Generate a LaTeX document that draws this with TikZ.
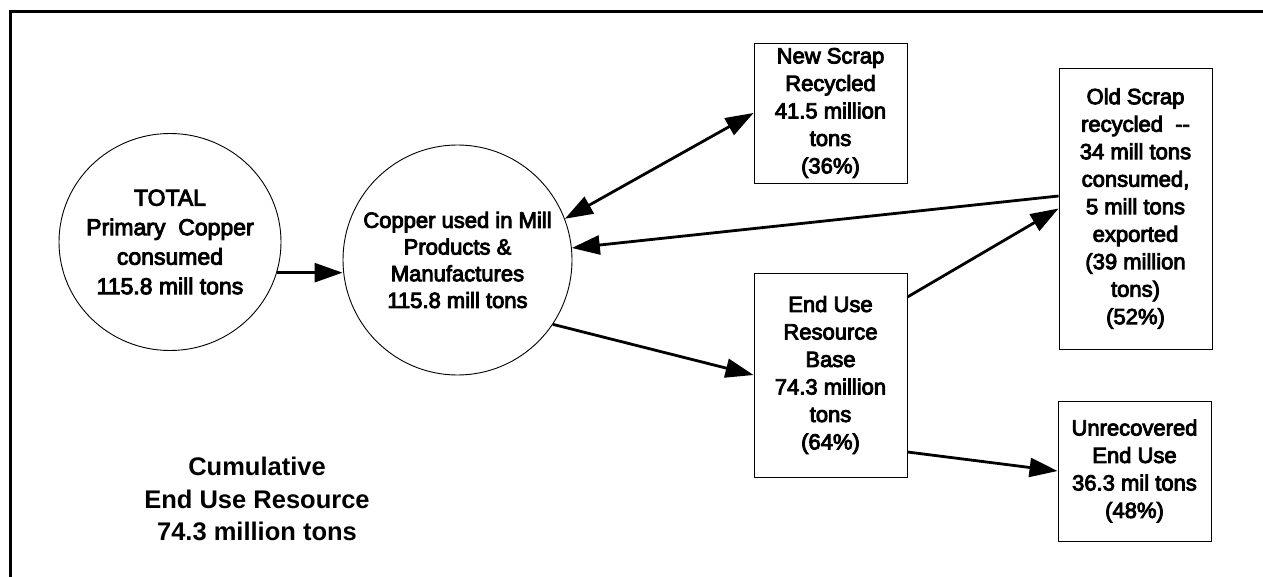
\documentclass[tikz,border=0pt]{standalone}
\usepackage{fontspec}
\setmainfont{Liberation Sans}
\newfontfamily\boxfont[FakeBold=4]{Liberation Sans}
\usetikzlibrary{shapes.geometric,arrows.meta}
\begin{document}
\begin{tikzpicture}[x=1pt,y=-1pt,
  bubble/.style={draw, ellipse, line width=0.9pt, inner sep=0pt},
  txt/.style={align=center, inner sep=0pt, font=\boxfont\fontsize{22}{27.5}\selectfont},
  card/.style={draw, rectangle, line width=0.9pt, inner sep=0pt, align=center, minimum width=153pt, font=\boxfont\fontsize{22}{27.5}\selectfont},
  arr/.style={line width=2.8pt, -{Triangle[length=28pt,width=19pt]}},
  darr/.style={line width=2.8pt, {Triangle[length=28pt,width=19pt]}-{Triangle[length=28pt,width=19pt]}},
]
\useasboundingbox (0,0) rectangle (1263,577);
\draw[line width=3pt] (10,577) -- (10,11.5) -- (1263,11.5);

% circles
\node[bubble, minimum width=222pt, minimum height=217pt] (c1) at (170,242) {};
\node[txt, font=\boxfont\fontsize{23}{29.5}\selectfont] (c1t) at (c1.center) {TOTAL\\Primary\ \ Copper\\consumed\\115.8 mill tons};
\node[bubble, minimum width=229pt, minimum height=230pt] (c2) at (457.5,260) {};
\node[txt, font=\boxfont\fontsize{22}{26.7}\selectfont] (c2t) at (c2.center) {Copper used in Mill\\Products \&\\Manufactures\\115.8 mill tons};

% boxes
\node[card, minimum height=140pt] (ns) at (830.5,113) {New Scrap\\Recycled\\41.5 million\\tons\\(36\%)};
\node[card, minimum height=281pt] (os) at (1135.5,208.5) {Old Scrap\\recycled\ \ --\\34 mill tons\\consumed,\\5 mill tons\\exported\\(39 million\\tons)\\(52\%)};
\node[card, minimum height=204pt] (eu) at (830.5,375) {End Use\\Resource\\Base\\74.3 million\\tons\\(64\%)};
\node[card, minimum height=140pt] (ur) at (1134.5,471) {Unrecovered\\End Use\\36.3 mil tons\\(48\%)};

% caption
\node[align=center, inner sep=0pt, font=\bfseries\fontsize{25.5}{32.5}\selectfont] (cum) at (257,499) {Cumulative\\End Use Resource\\74.3 million tons};

% connectors
\draw[arr] (c1.-16) -- (c1.-16 -| c2.west);
\draw[darr] (c2.21) -- (ns.west);
\draw[arr] ([yshift=12.5pt]os.west) -- (c2.6);
\draw[arr] (c2.-34.5) -- (eu.west);
\draw[arr] ([yshift=78pt]eu.east) -- (os.west);
\draw[arr] ([yshift=-77pt]eu.east) -- (ur.west);
\end{tikzpicture}
\end{document}
